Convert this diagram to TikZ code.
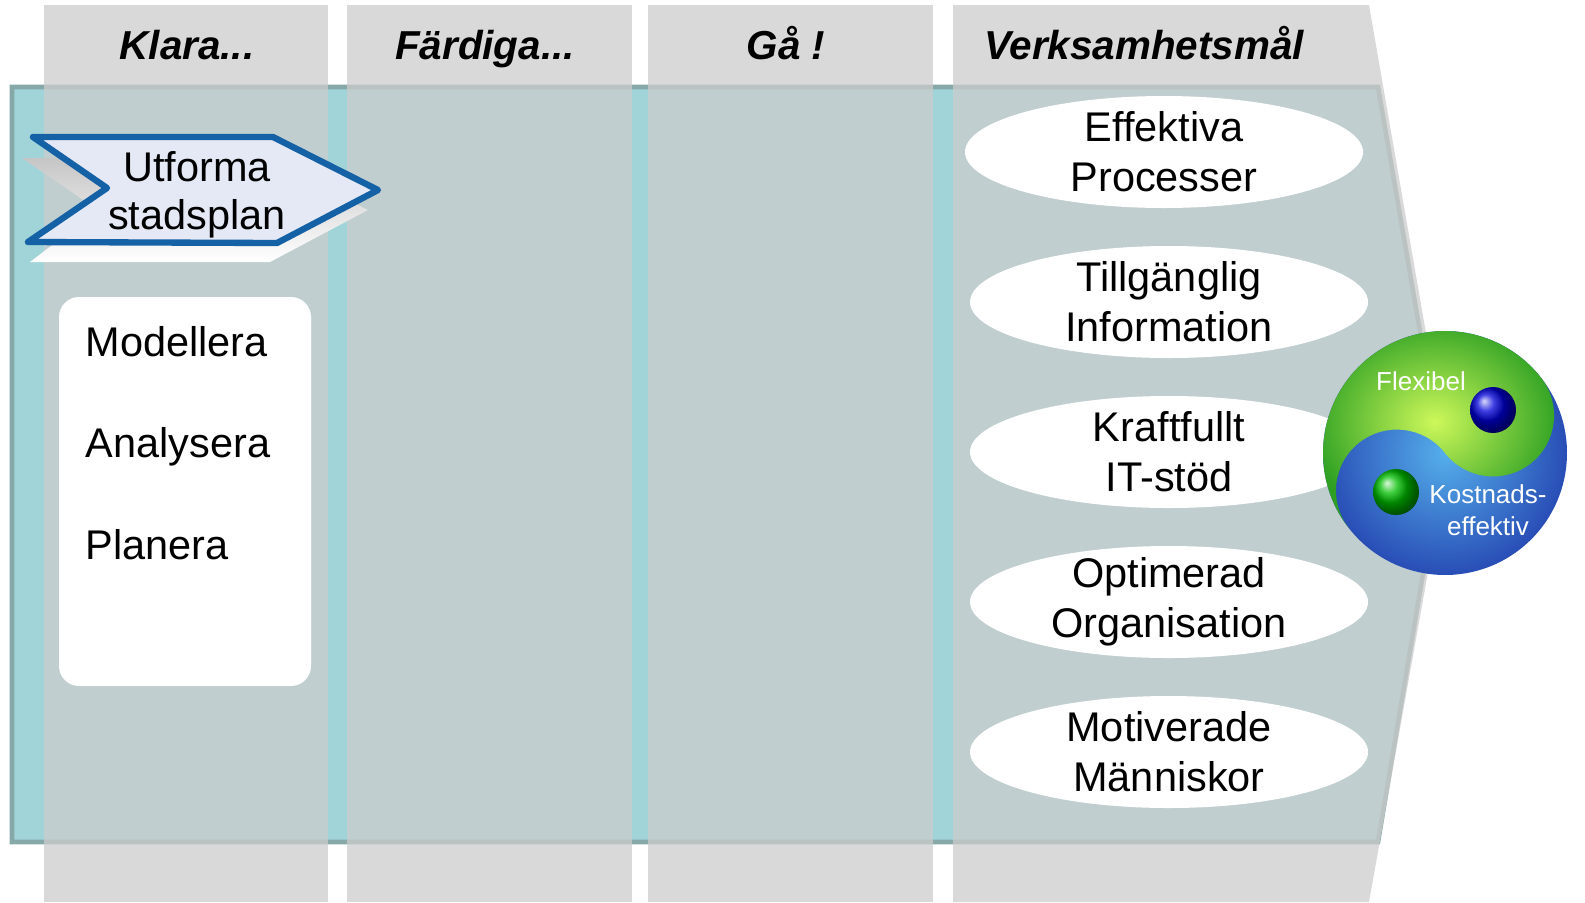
\documentclass[tikz,border=0pt]{standalone}
\usepackage{fontspec}
\setmainfont{Liberation Sans}
\usepackage{tikz}
\usetikzlibrary{shapes, positioning, calc}
\definecolor{panelteal}{RGB}{160, 212, 216}
\definecolor{panelrim}{RGB}{135, 168, 168}
\definecolor{colgray}{RGB}{204, 204, 204}
\definecolor{arrowblue}{RGB}{21, 97, 166}
\definecolor{arrowfill}{RGB}{228, 233, 245}
\definecolor{globegreen}{RGB}{45, 160, 35}
\definecolor{globelime}{RGB}{205, 248, 90}
\definecolor{globeblue}{RGB}{35, 65, 175}
\definecolor{globesky}{RGB}{85, 175, 235}

\begin{document}
\begin{tikzpicture}[
  colband/.style={fill=colgray, fill opacity=0.74, draw=none},
  colhead/.style={anchor=base, font=\fontsize{11.5}{13}\selectfont\bfseries\itshape},
  goalshape/.style={ellipse, fill=white, minimum width=3.98cm, minimum height=1.12cm, inner sep=0pt},
  goaltext/.style={align=center, font=\fontsize{11.8}{14.2}\selectfont, inner sep=0pt},
  tasktext/.style={anchor=base west, inner sep=0pt, font=\fontsize{11.8}{14}\selectfont},
  globetext/.style={text=white, align=center, inner sep=0pt, font=\fontsize{7.4}{9.1}\selectfont}
]
  \useasboundingbox (0, 0) rectangle (15.85, 9.02);

  % Panel behind the columns
  \draw[panelrim, fill=panelteal, line width=1.3pt]
    (0.12, 8.15) -- (13.78, 8.15) -- (14.42, 4.42) -- (13.78, 0.60) -- (0.12, 0.60) -- cycle;

  % Columns
  \fill[colband] (0.44, 0) rectangle (3.28, 8.97);
  \fill[colband] (3.47, 0) rectangle (6.32, 8.97);
  \fill[colband] (6.48, 0) rectangle (9.33, 8.97);
  \fill[colband] (9.53, 0) -- (9.53, 8.97) -- (13.69, 8.97) -- (14.48, 4.42) -- (13.69, 0) -- cycle;

  % Column headings
  \node[colhead] (klara) at (1.87, 8.43) {Klara...};
  \node[colhead] (fardiga) at (4.85, 8.43) {Färdiga...};
  \node[colhead] (ga) at (7.86, 8.43) {Gå !};
  \node[colhead] (mal) at (11.44, 8.43) {Verksamhetsmål};

  % Process arrow
  \shade[top color=gray!45, bottom color=white]
    (0.22, 7.44) -- (2.62, 7.44) -- (3.68, 6.92) -- (2.70, 6.40) -- (0.30, 6.40) -- (0.98, 6.92) -- cycle;
  \draw[arrowblue, fill=arrowfill, line width=1.8pt, line join=round]
    (0.33, 7.65) -- (2.73, 7.65) -- (3.78, 7.12) -- (2.77, 6.59) -- (0.28, 6.60) -- (1.07, 7.14) -- cycle;
  \node[align=center, inner sep=0pt, font=\fontsize{11.8}{13.7}\selectfont] (utforma) at (1.97, 7.07) {Utforma\\stadsplan};

  % Activities
  \node[fill=white, rounded corners=0.2cm, minimum width=2.52cm, minimum height=3.89cm, inner sep=0pt] (steps) at (1.85, 4.105) {};
  \node[tasktext] (modellera) at (0.85, 5.46) {Modellera};
  \node[tasktext] (analysera) at (0.85, 4.45) {Analysera};
  \node[tasktext] (planera) at (0.85, 3.43) {Planera};

  % Business goals
  \node[goalshape] (goal1) at (11.64, 7.50) {};
  \node[goaltext] (goal1text) at (goal1) {Effektiva\\Processer};
  \node[goalshape] (goal2) at (11.69, 6.00) {};
  \node[goaltext] (goal2text) at (goal2) {Tillgänglig\\Information};
  \node[goalshape] (goal3) at (11.69, 4.50) {};
  \node[goaltext] (goal3text) at (goal3) {Kraftfullt\\IT-stöd};
  \node[goalshape] (goal4) at (11.69, 3.00) {};
  \node[goaltext] (goal4text) at (goal4) {Optimerad\\Organisation};
  \node[goalshape] (goal5) at (11.69, 1.50) {};
  \node[goaltext] (goal5text) at (goal5) {Motiverade\\Människor};

  % Globe
  \begin{scope}[shift={(14.45, 4.49)}, rotate=38]
    \shade[inner color=globesky, outer color=globeblue] (0, 0) circle (1.22);
    \shade[inner color=globelime, outer color=globegreen]
      (-1.22, 0) arc[start angle=180, end angle=0, radius=1.22]
      arc[start angle=0, end angle=-180, radius=0.61]
      arc[start angle=0, end angle=180, radius=0.61] -- cycle;
  \end{scope}
  \shade[ball color=blue!85!black] (14.93, 4.92) circle (0.23);
  \shade[ball color=green!75!black] (13.96, 4.10) circle (0.23);
  \node[globetext] (flexibel) at (14.21, 5.21) {Flexibel};
  \node[globetext] (kostnad) at (14.88, 3.92) {Kostnads-\\effektiv};
\end{tikzpicture}
\end{document}
